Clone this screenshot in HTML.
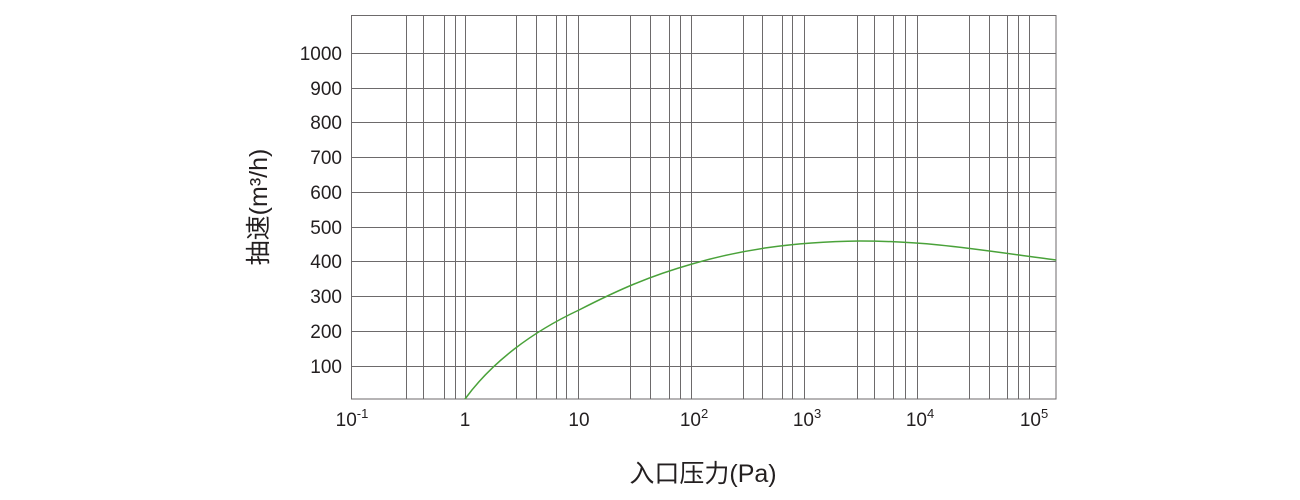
<!DOCTYPE html>
<html><head><meta charset="utf-8"><style>
html,body{margin:0;padding:0;background:#fff;width:1300px;height:500px;overflow:hidden}
text{font-family:"Liberation Sans","Noto Sans CJK SC",sans-serif;fill:#231f20}
</style></head><body>
<svg width="1300" height="500" xmlns="http://www.w3.org/2000/svg">
<g stroke="#6d6a6b" stroke-width="1" fill="none">
<rect x="351.5" y="15.5" width="704.5" height="383.5"/>
<path d="M351 53.5H1056M351 88.5H1056M351 122.5H1056M351 157.5H1056M351 192.5H1056M351 227.5H1056M351 261.5H1056M351 296.5H1056M351 331.5H1056M351 366.5H1056"/>
<path d="M406.5 15V399M423.5 15V399M444.5 15V399M455.5 15V399M465.5 15V399
M516.5 15V399M536.5 15V399M556.5 15V399M566.5 15V399M578.5 15V399
M630.5 15V399M650.5 15V399M669.5 15V399M680.5 15V399M691.5 15V399
M743.5 15V399M762.5 15V399M782.5 15V399M792.5 15V399M804.5 15V399
M857.5 15V399M874.5 15V399M893.5 15V399M905.5 15V399M917.5 15V399
M969.5 15V399M989.5 15V399M1007.5 15V399M1018.5 15V399M1029.5 15V399"/>
</g>
<path d="M465 399 C492 362 532 332 579 310 C620 289 650 276 692 264 C740 250 790 242 860 241 C930 241 980 250 1056 260" stroke="#4aa23a" stroke-width="1.5" fill="none"/>
<g font-size="19" text-anchor="end">
<text x="342" y="60">1000</text><text x="342" y="95">900</text><text x="342" y="129">800</text>
<text x="342" y="164">700</text><text x="342" y="199">600</text><text x="342" y="234">500</text>
<text x="342" y="268">400</text><text x="342" y="303">300</text><text x="342" y="338">200</text>
<text x="342" y="373">100</text>
</g>
<g font-size="19" text-anchor="middle">
<text x="352" y="426">10<tspan font-size="13" dy="-8">-1</tspan></text>
<text x="465" y="426">1</text>
<text x="579" y="426">10</text>
<text x="694" y="426">10<tspan font-size="13" dy="-8">2</tspan></text>
<text x="807" y="426">10<tspan font-size="13" dy="-8">3</tspan></text>
<text x="920" y="426">10<tspan font-size="13" dy="-8">4</tspan></text>
<text x="1034" y="426">10<tspan font-size="13" dy="-8">5</tspan></text>
</g>
<text x="703" y="482" font-size="25" text-anchor="middle">入口压力(Pa)</text>
<text transform="translate(267,207) rotate(-90)" font-size="25" text-anchor="middle">抽速(m³/h)</text>
</svg>
</body></html>
